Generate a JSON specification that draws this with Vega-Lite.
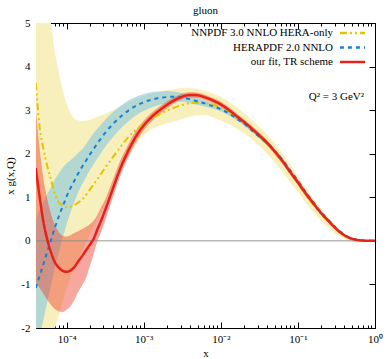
{
  "$schema": "https://vega.github.io/schema/vega-lite/v6.json",
  "width": 339,
  "height": 305,
  "autosize": {"type": "none"},
  "padding": {"left": 36, "top": 23, "right": 15, "bottom": 31},
  "title": {"text": "gluon", "fontSize": 11, "font": "Liberation Serif", "fontWeight": "normal", "color": "#000", "offset": 1},
  "config": {
    "font": "Liberation Serif",
    "view": {"stroke": "#000", "strokeWidth": 1},
    "axis": {
      "labelFont": "Liberation Serif", "labelFontSize": 11, "labelColor": "#000",
      "titleFont": "Liberation Serif", "titleFontSize": 11, "titleFontWeight": "normal", "titleColor": "#000",
      "tickColor": "#000", "tickWidth": 1, "grid": false, "domain": false,
      "labelFlush": false, "labelOverlap": false
    }
  },
  "datasets": {
    "nnpdf": [
      {"p":"NNPDF 3.0 NNLO HERA-only","x":3.981e-5,"y":3.62,"lo":-3.5,"hi":9},
      {"p":"NNPDF 3.0 NNLO HERA-only","x":4.467e-5,"y":2.6,"lo":-3.2,"hi":7.5},
      {"p":"NNPDF 3.0 NNLO HERA-only","x":5.012e-5,"y":2.1,"lo":-2.9,"hi":6.2},
      {"p":"NNPDF 3.0 NNLO HERA-only","x":5.623e-5,"y":1.7,"lo":-2.6,"hi":5.5},
      {"p":"NNPDF 3.0 NNLO HERA-only","x":6.310e-5,"y":1.38,"lo":-2.3,"hi":4.95},
      {"p":"NNPDF 3.0 NNLO HERA-only","x":7.079e-5,"y":1.06,"lo":-2.0,"hi":4.3},
      {"p":"NNPDF 3.0 NNLO HERA-only","x":7.943e-5,"y":0.88,"lo":-1.7,"hi":3.85},
      {"p":"NNPDF 3.0 NNLO HERA-only","x":8.913e-5,"y":0.8,"lo":-1.38,"hi":3.45},
      {"p":"NNPDF 3.0 NNLO HERA-only","x":1.0e-4,"y":0.77,"lo":-1.1,"hi":3.15},
      {"p":"NNPDF 3.0 NNLO HERA-only","x":1.122e-4,"y":0.78,"lo":-0.85,"hi":2.93},
      {"p":"NNPDF 3.0 NNLO HERA-only","x":1.259e-4,"y":0.82,"lo":-0.62,"hi":2.8},
      {"p":"NNPDF 3.0 NNLO HERA-only","x":1.413e-4,"y":0.88,"lo":-0.42,"hi":2.76},
      {"p":"NNPDF 3.0 NNLO HERA-only","x":1.585e-4,"y":0.95,"lo":-0.24,"hi":2.75},
      {"p":"NNPDF 3.0 NNLO HERA-only","x":1.778e-4,"y":1.05,"lo":-0.05,"hi":2.76},
      {"p":"NNPDF 3.0 NNLO HERA-only","x":1.995e-4,"y":1.17,"lo":0.15,"hi":2.78},
      {"p":"NNPDF 3.0 NNLO HERA-only","x":2.239e-4,"y":1.3,"lo":0.33,"hi":2.81},
      {"p":"NNPDF 3.0 NNLO HERA-only","x":2.512e-4,"y":1.42,"lo":0.5,"hi":2.85},
      {"p":"NNPDF 3.0 NNLO HERA-only","x":2.818e-4,"y":1.55,"lo":0.68,"hi":2.88},
      {"p":"NNPDF 3.0 NNLO HERA-only","x":3.162e-4,"y":1.68,"lo":0.85,"hi":2.92},
      {"p":"NNPDF 3.0 NNLO HERA-only","x":3.981e-4,"y":1.92,"lo":1.25,"hi":2.99},
      {"p":"NNPDF 3.0 NNLO HERA-only","x":5.012e-4,"y":2.16,"lo":1.62,"hi":3.09},
      {"p":"NNPDF 3.0 NNLO HERA-only","x":6.310e-4,"y":2.38,"lo":1.95,"hi":3.18},
      {"p":"NNPDF 3.0 NNLO HERA-only","x":7.943e-4,"y":2.55,"lo":2.22,"hi":3.26},
      {"p":"NNPDF 3.0 NNLO HERA-only","x":1.0e-3,"y":2.68,"lo":2.42,"hi":3.33},
      {"p":"NNPDF 3.0 NNLO HERA-only","x":1.259e-3,"y":2.8,"lo":2.56,"hi":3.38},
      {"p":"NNPDF 3.0 NNLO HERA-only","x":1.585e-3,"y":2.9,"lo":2.64,"hi":3.42},
      {"p":"NNPDF 3.0 NNLO HERA-only","x":1.995e-3,"y":2.99,"lo":2.7,"hi":3.46},
      {"p":"NNPDF 3.0 NNLO HERA-only","x":2.512e-3,"y":3.06,"lo":2.74,"hi":3.48},
      {"p":"NNPDF 3.0 NNLO HERA-only","x":3.162e-3,"y":3.12,"lo":2.8,"hi":3.5},
      {"p":"NNPDF 3.0 NNLO HERA-only","x":3.981e-3,"y":3.16,"lo":2.85,"hi":3.5},
      {"p":"NNPDF 3.0 NNLO HERA-only","x":5.012e-3,"y":3.17,"lo":2.88,"hi":3.48},
      {"p":"NNPDF 3.0 NNLO HERA-only","x":6.310e-3,"y":3.16,"lo":2.88,"hi":3.44},
      {"p":"NNPDF 3.0 NNLO HERA-only","x":7.943e-3,"y":3.12,"lo":2.83,"hi":3.38},
      {"p":"NNPDF 3.0 NNLO HERA-only","x":0.01,"y":3.06,"lo":2.76,"hi":3.3},
      {"p":"NNPDF 3.0 NNLO HERA-only","x":0.01259,"y":2.96,"lo":2.68,"hi":3.2},
      {"p":"NNPDF 3.0 NNLO HERA-only","x":0.01585,"y":2.84,"lo":2.58,"hi":3.08},
      {"p":"NNPDF 3.0 NNLO HERA-only","x":0.01995,"y":2.7,"lo":2.47,"hi":2.94},
      {"p":"NNPDF 3.0 NNLO HERA-only","x":0.02512,"y":2.56,"lo":2.34,"hi":2.78},
      {"p":"NNPDF 3.0 NNLO HERA-only","x":0.03162,"y":2.4,"lo":2.18,"hi":2.62},
      {"p":"NNPDF 3.0 NNLO HERA-only","x":0.03981,"y":2.22,"lo":2.0,"hi":2.44},
      {"p":"NNPDF 3.0 NNLO HERA-only","x":0.05012,"y":2.02,"lo":1.8,"hi":2.24},
      {"p":"NNPDF 3.0 NNLO HERA-only","x":0.0631,"y":1.8,"lo":1.58,"hi":2.01},
      {"p":"NNPDF 3.0 NNLO HERA-only","x":0.07943,"y":1.56,"lo":1.35,"hi":1.76},
      {"p":"NNPDF 3.0 NNLO HERA-only","x":0.1,"y":1.31,"lo":1.12,"hi":1.5},
      {"p":"NNPDF 3.0 NNLO HERA-only","x":0.1259,"y":1.06,"lo":0.88,"hi":1.23},
      {"p":"NNPDF 3.0 NNLO HERA-only","x":0.1585,"y":0.83,"lo":0.66,"hi":0.98},
      {"p":"NNPDF 3.0 NNLO HERA-only","x":0.1995,"y":0.61,"lo":0.46,"hi":0.74},
      {"p":"NNPDF 3.0 NNLO HERA-only","x":0.2512,"y":0.42,"lo":0.29,"hi":0.53},
      {"p":"NNPDF 3.0 NNLO HERA-only","x":0.3162,"y":0.25,"lo":0.15,"hi":0.34},
      {"p":"NNPDF 3.0 NNLO HERA-only","x":0.3981,"y":0.12,"lo":0.05,"hi":0.19},
      {"p":"NNPDF 3.0 NNLO HERA-only","x":0.5012,"y":0.04,"lo":-0.02,"hi":0.08},
      {"p":"NNPDF 3.0 NNLO HERA-only","x":0.631,"y":0.01,"lo":-0.04,"hi":0.03},
      {"p":"NNPDF 3.0 NNLO HERA-only","x":0.7943,"y":0.002,"lo":-0.02,"hi":0.01},
      {"p":"NNPDF 3.0 NNLO HERA-only","x":1.0,"y":0,"lo":-0.005,"hi":0.005}
    ],
    "hera": [
      {"p":"HERAPDF 2.0 NNLO","x":3.981e-5,"y":-1.08,"lo":-2.6,"hi":0.5},
      {"p":"HERAPDF 2.0 NNLO","x":4.467e-5,"y":-0.8,"lo":-2.2,"hi":0.7},
      {"p":"HERAPDF 2.0 NNLO","x":5.012e-5,"y":-0.52,"lo":-1.8,"hi":0.9},
      {"p":"HERAPDF 2.0 NNLO","x":5.623e-5,"y":-0.24,"lo":-1.4,"hi":1.08},
      {"p":"HERAPDF 2.0 NNLO","x":6.310e-5,"y":0.04,"lo":-1.0,"hi":1.25},
      {"p":"HERAPDF 2.0 NNLO","x":7.079e-5,"y":0.32,"lo":-0.6,"hi":1.42},
      {"p":"HERAPDF 2.0 NNLO","x":7.943e-5,"y":0.57,"lo":-0.25,"hi":1.56},
      {"p":"HERAPDF 2.0 NNLO","x":8.913e-5,"y":0.8,"lo":0.08,"hi":1.68},
      {"p":"HERAPDF 2.0 NNLO","x":1.0e-4,"y":1.02,"lo":0.38,"hi":1.78},
      {"p":"HERAPDF 2.0 NNLO","x":1.122e-4,"y":1.21,"lo":0.65,"hi":1.85},
      {"p":"HERAPDF 2.0 NNLO","x":1.259e-4,"y":1.38,"lo":0.9,"hi":1.93},
      {"p":"HERAPDF 2.0 NNLO","x":1.413e-4,"y":1.55,"lo":1.11,"hi":2.02},
      {"p":"HERAPDF 2.0 NNLO","x":1.585e-4,"y":1.7,"lo":1.3,"hi":2.1},
      {"p":"HERAPDF 2.0 NNLO","x":1.778e-4,"y":1.84,"lo":1.46,"hi":2.22},
      {"p":"HERAPDF 2.0 NNLO","x":1.995e-4,"y":1.98,"lo":1.62,"hi":2.35},
      {"p":"HERAPDF 2.0 NNLO","x":2.239e-4,"y":2.11,"lo":1.76,"hi":2.47},
      {"p":"HERAPDF 2.0 NNLO","x":2.512e-4,"y":2.24,"lo":1.9,"hi":2.58},
      {"p":"HERAPDF 2.0 NNLO","x":2.818e-4,"y":2.36,"lo":2.03,"hi":2.68},
      {"p":"HERAPDF 2.0 NNLO","x":3.162e-4,"y":2.48,"lo":2.16,"hi":2.78},
      {"p":"HERAPDF 2.0 NNLO","x":3.981e-4,"y":2.68,"lo":2.38,"hi":2.96},
      {"p":"HERAPDF 2.0 NNLO","x":5.012e-4,"y":2.85,"lo":2.58,"hi":3.1},
      {"p":"HERAPDF 2.0 NNLO","x":6.310e-4,"y":2.99,"lo":2.74,"hi":3.22},
      {"p":"HERAPDF 2.0 NNLO","x":7.943e-4,"y":3.1,"lo":2.88,"hi":3.31},
      {"p":"HERAPDF 2.0 NNLO","x":1.0e-3,"y":3.18,"lo":2.98,"hi":3.37},
      {"p":"HERAPDF 2.0 NNLO","x":1.259e-3,"y":3.24,"lo":3.06,"hi":3.41},
      {"p":"HERAPDF 2.0 NNLO","x":1.585e-3,"y":3.28,"lo":3.12,"hi":3.43},
      {"p":"HERAPDF 2.0 NNLO","x":1.995e-3,"y":3.3,"lo":3.16,"hi":3.44},
      {"p":"HERAPDF 2.0 NNLO","x":2.512e-3,"y":3.31,"lo":3.19,"hi":3.42},
      {"p":"HERAPDF 2.0 NNLO","x":3.162e-3,"y":3.29,"lo":3.19,"hi":3.39},
      {"p":"HERAPDF 2.0 NNLO","x":3.981e-3,"y":3.25,"lo":3.16,"hi":3.34},
      {"p":"HERAPDF 2.0 NNLO","x":5.012e-3,"y":3.2,"lo":3.12,"hi":3.28},
      {"p":"HERAPDF 2.0 NNLO","x":6.310e-3,"y":3.15,"lo":3.08,"hi":3.22},
      {"p":"HERAPDF 2.0 NNLO","x":7.943e-3,"y":3.09,"lo":3.03,"hi":3.15},
      {"p":"HERAPDF 2.0 NNLO","x":0.01,"y":3.02,"lo":2.97,"hi":3.07},
      {"p":"HERAPDF 2.0 NNLO","x":0.01259,"y":2.93,"lo":2.88,"hi":2.98},
      {"p":"HERAPDF 2.0 NNLO","x":0.01585,"y":2.81,"lo":2.77,"hi":2.85},
      {"p":"HERAPDF 2.0 NNLO","x":0.01995,"y":2.69,"lo":2.65,"hi":2.73},
      {"p":"HERAPDF 2.0 NNLO","x":0.02512,"y":2.54,"lo":2.5,"hi":2.58},
      {"p":"HERAPDF 2.0 NNLO","x":0.03162,"y":2.39,"lo":2.35,"hi":2.43},
      {"p":"HERAPDF 2.0 NNLO","x":0.03981,"y":2.24,"lo":2.2,"hi":2.28},
      {"p":"HERAPDF 2.0 NNLO","x":0.05012,"y":2.06,"lo":2.02,"hi":2.1},
      {"p":"HERAPDF 2.0 NNLO","x":0.0631,"y":1.86,"lo":1.82,"hi":1.9},
      {"p":"HERAPDF 2.0 NNLO","x":0.07943,"y":1.62,"lo":1.58,"hi":1.66},
      {"p":"HERAPDF 2.0 NNLO","x":0.1,"y":1.38,"lo":1.34,"hi":1.42},
      {"p":"HERAPDF 2.0 NNLO","x":0.1259,"y":1.12,"lo":1.08,"hi":1.16},
      {"p":"HERAPDF 2.0 NNLO","x":0.1585,"y":0.89,"lo":0.86,"hi":0.92},
      {"p":"HERAPDF 2.0 NNLO","x":0.1995,"y":0.66,"lo":0.63,"hi":0.69},
      {"p":"HERAPDF 2.0 NNLO","x":0.2512,"y":0.47,"lo":0.44,"hi":0.5},
      {"p":"HERAPDF 2.0 NNLO","x":0.3162,"y":0.29,"lo":0.27,"hi":0.31},
      {"p":"HERAPDF 2.0 NNLO","x":0.3981,"y":0.14,"lo":0.12,"hi":0.16},
      {"p":"HERAPDF 2.0 NNLO","x":0.5012,"y":0.05,"lo":0.04,"hi":0.06},
      {"p":"HERAPDF 2.0 NNLO","x":0.631,"y":0.015,"lo":0.01,"hi":0.02},
      {"p":"HERAPDF 2.0 NNLO","x":0.7943,"y":0.003,"lo":0.0,"hi":0.006},
      {"p":"HERAPDF 2.0 NNLO","x":1.0,"y":0,"lo":0,"hi":0}
    ],
    "fit": [
      {"p":"our fit, TR scheme","x":3.981e-5,"y":1.67,"lo":-0.95,"hi":3.0},
      {"p":"our fit, TR scheme","x":4.467e-5,"y":1.0,"lo":-1.08,"hi":2.1},
      {"p":"our fit, TR scheme","x":5.012e-5,"y":0.42,"lo":-1.22,"hi":1.4},
      {"p":"our fit, TR scheme","x":5.623e-5,"y":0.02,"lo":-1.36,"hi":0.95},
      {"p":"our fit, TR scheme","x":6.310e-5,"y":-0.28,"lo":-1.48,"hi":0.6},
      {"p":"our fit, TR scheme","x":7.079e-5,"y":-0.5,"lo":-1.57,"hi":0.35},
      {"p":"our fit, TR scheme","x":7.943e-5,"y":-0.62,"lo":-1.62,"hi":0.2},
      {"p":"our fit, TR scheme","x":8.913e-5,"y":-0.69,"lo":-1.63,"hi":0.12},
      {"p":"our fit, TR scheme","x":1.0e-4,"y":-0.71,"lo":-1.58,"hi":0.1},
      {"p":"our fit, TR scheme","x":1.122e-4,"y":-0.68,"lo":-1.5,"hi":0.13},
      {"p":"our fit, TR scheme","x":1.259e-4,"y":-0.6,"lo":-1.35,"hi":0.18},
      {"p":"our fit, TR scheme","x":1.413e-4,"y":-0.47,"lo":-1.17,"hi":0.22},
      {"p":"our fit, TR scheme","x":1.585e-4,"y":-0.35,"lo":-1.02,"hi":0.27},
      {"p":"our fit, TR scheme","x":1.778e-4,"y":-0.22,"lo":-0.85,"hi":0.32},
      {"p":"our fit, TR scheme","x":1.995e-4,"y":-0.09,"lo":-0.58,"hi":0.38},
      {"p":"our fit, TR scheme","x":2.239e-4,"y":0.05,"lo":-0.3,"hi":0.46},
      {"p":"our fit, TR scheme","x":2.512e-4,"y":0.27,"lo":0.0,"hi":0.6},
      {"p":"our fit, TR scheme","x":2.818e-4,"y":0.48,"lo":0.22,"hi":0.78},
      {"p":"our fit, TR scheme","x":3.162e-4,"y":0.71,"lo":0.47,"hi":0.95},
      {"p":"our fit, TR scheme","x":3.981e-4,"y":1.2,"lo":1.0,"hi":1.4},
      {"p":"our fit, TR scheme","x":5.012e-4,"y":1.68,"lo":1.52,"hi":1.86},
      {"p":"our fit, TR scheme","x":6.310e-4,"y":2.07,"lo":1.92,"hi":2.22},
      {"p":"our fit, TR scheme","x":7.943e-4,"y":2.4,"lo":2.27,"hi":2.53},
      {"p":"our fit, TR scheme","x":1.0e-3,"y":2.65,"lo":2.54,"hi":2.76},
      {"p":"our fit, TR scheme","x":1.259e-3,"y":2.84,"lo":2.74,"hi":2.94},
      {"p":"our fit, TR scheme","x":1.585e-3,"y":2.99,"lo":2.9,"hi":3.08},
      {"p":"our fit, TR scheme","x":1.995e-3,"y":3.12,"lo":3.04,"hi":3.2},
      {"p":"our fit, TR scheme","x":2.512e-3,"y":3.23,"lo":3.16,"hi":3.3},
      {"p":"our fit, TR scheme","x":3.162e-3,"y":3.31,"lo":3.25,"hi":3.38},
      {"p":"our fit, TR scheme","x":3.981e-3,"y":3.35,"lo":3.29,"hi":3.41},
      {"p":"our fit, TR scheme","x":5.012e-3,"y":3.34,"lo":3.28,"hi":3.4},
      {"p":"our fit, TR scheme","x":6.310e-3,"y":3.29,"lo":3.23,"hi":3.35},
      {"p":"our fit, TR scheme","x":7.943e-3,"y":3.22,"lo":3.16,"hi":3.28},
      {"p":"our fit, TR scheme","x":0.01,"y":3.13,"lo":3.07,"hi":3.19},
      {"p":"our fit, TR scheme","x":0.01259,"y":3.01,"lo":2.95,"hi":3.07},
      {"p":"our fit, TR scheme","x":0.01585,"y":2.87,"lo":2.81,"hi":2.93},
      {"p":"our fit, TR scheme","x":0.01995,"y":2.73,"lo":2.67,"hi":2.79},
      {"p":"our fit, TR scheme","x":0.02512,"y":2.58,"lo":2.52,"hi":2.64},
      {"p":"our fit, TR scheme","x":0.03162,"y":2.42,"lo":2.36,"hi":2.48},
      {"p":"our fit, TR scheme","x":0.03981,"y":2.25,"lo":2.19,"hi":2.31},
      {"p":"our fit, TR scheme","x":0.05012,"y":2.05,"lo":1.99,"hi":2.11},
      {"p":"our fit, TR scheme","x":0.0631,"y":1.83,"lo":1.77,"hi":1.89},
      {"p":"our fit, TR scheme","x":0.07943,"y":1.58,"lo":1.52,"hi":1.64},
      {"p":"our fit, TR scheme","x":0.1,"y":1.34,"lo":1.28,"hi":1.4},
      {"p":"our fit, TR scheme","x":0.1259,"y":1.09,"lo":1.03,"hi":1.15},
      {"p":"our fit, TR scheme","x":0.1585,"y":0.86,"lo":0.81,"hi":0.91},
      {"p":"our fit, TR scheme","x":0.1995,"y":0.64,"lo":0.6,"hi":0.68},
      {"p":"our fit, TR scheme","x":0.2512,"y":0.45,"lo":0.41,"hi":0.49},
      {"p":"our fit, TR scheme","x":0.3162,"y":0.27,"lo":0.24,"hi":0.3},
      {"p":"our fit, TR scheme","x":0.3981,"y":0.13,"lo":0.11,"hi":0.15},
      {"p":"our fit, TR scheme","x":0.5012,"y":0.05,"lo":0.04,"hi":0.06},
      {"p":"our fit, TR scheme","x":0.631,"y":0.015,"lo":0.01,"hi":0.02},
      {"p":"our fit, TR scheme","x":0.7943,"y":0.003,"lo":0.0,"hi":0.006},
      {"p":"our fit, TR scheme","x":1.0,"y":0,"lo":0,"hi":0}
    ]
  },
  "resolve": {"axis": {"x": "independent", "y": "independent"}},
  "layer": [
    {
      "data": {"name": "nnpdf"},
      "mark": {"type": "area", "color": "#f7f0bd", "interpolate": "monotone", "clip": true},
      "encoding": {
        "x": {
          "field": "x", "type": "quantitative",
          "scale": {"type": "log", "domain": [0.00004, 1], "nice": false},
          "axis": {
            "orient": "bottom", "values": [0.0001, 0.001, 0.01, 0.1, 1],
            "labelExpr": "datum.value < 0.0005 ? '10⁻⁴' : datum.value < 0.005 ? '10⁻³' : datum.value < 0.05 ? '10⁻²' : datum.value < 0.5 ? '10⁻¹' : '10⁰'",
            "tickSize": -6, "labelPadding": 11, "title": "x", "titlePadding": 3
          }
        },
        "y": {
          "field": "lo", "type": "quantitative",
          "scale": {"domain": [-2, 5], "nice": false, "zero": false},
          "axis": {
            "orient": "left", "values": [-2, -1, 0, 1, 2, 3, 4, 5],
            "labelExpr": "datum.value < 0 ? '-' + abs(datum.value) : '' + datum.value",
            "tickSize": -6, "labelPadding": 12, "title": "x g(x,Q)", "titlePadding": 5
          }
        },
        "y2": {"field": "hi"}
      }
    },
    {
      "data": {"name": "hera"},
      "mark": {"type": "area", "color": "#7cc4e2", "opacity": 0.55, "interpolate": "monotone", "clip": true},
      "encoding": {
        "x": {
          "field": "x", "type": "quantitative",
          "axis": {
            "orient": "bottom",
            "values": [0.00005, 0.00006, 0.00007, 0.00008, 0.00009, 0.0002, 0.0003, 0.0004, 0.0005, 0.0006, 0.0007, 0.0008, 0.0009, 0.002, 0.003, 0.004, 0.005, 0.006, 0.007, 0.008, 0.009, 0.02, 0.03, 0.04, 0.05, 0.06, 0.07, 0.08, 0.09, 0.2, 0.3, 0.4, 0.5, 0.6, 0.7, 0.8, 0.9],
            "labels": false, "tickSize": -3, "title": null
          }
        },
        "y": {
          "field": "lo", "type": "quantitative",
          "axis": {"orient": "right", "values": [-2, -1, 0, 1, 2, 3, 4, 5], "labels": false, "tickSize": -6, "title": null}
        },
        "y2": {"field": "hi"}
      }
    },
    {
      "data": {"name": "fit"},
      "mark": {"type": "area", "color": "#ee3b2a", "opacity": 0.45, "interpolate": "monotone", "clip": true},
      "encoding": {
        "x": {
          "field": "x", "type": "quantitative",
          "axis": {"orient": "top", "values": [0.0001, 0.001, 0.01, 0.1, 1], "labels": false, "tickSize": -6, "title": null}
        },
        "y": {"field": "lo", "type": "quantitative", "axis": null},
        "y2": {"field": "hi"}
      }
    },
    {
      "data": {"values": [{}]},
      "mark": {"type": "rule", "color": "#8a8a8a", "strokeWidth": 1.5, "opacity": 0.6},
      "encoding": {"y": {"datum": 0, "axis": null}}
    },
    {
      "data": {"name": "nnpdf"},
      "mark": {"type": "line", "strokeWidth": 2, "interpolate": "monotone", "clip": true},
      "encoding": {
        "x": {
          "field": "x", "type": "quantitative",
          "axis": {
            "orient": "top",
            "values": [0.00005, 0.00006, 0.00007, 0.00008, 0.00009, 0.0002, 0.0003, 0.0004, 0.0005, 0.0006, 0.0007, 0.0008, 0.0009, 0.002, 0.003, 0.004, 0.005, 0.006, 0.007, 0.008, 0.009, 0.02, 0.03, 0.04, 0.05, 0.06, 0.07, 0.08, 0.09, 0.2, 0.3, 0.4, 0.5, 0.6, 0.7, 0.8, 0.9],
            "labels": false, "tickSize": -3, "title": null
          }
        },
        "y": {"field": "y", "type": "quantitative", "axis": null},
        "color": {
          "field": "p", "type": "nominal",
          "scale": {"domain": ["NNPDF 3.0 NNLO HERA-only", "HERAPDF 2.0 NNLO", "our fit, TR scheme"], "range": ["#e3c400", "#1a7fd0", "#e8201a"]},
          "legend": {
            "orient": "none", "legendX": 304, "legendY": 4, "title": null,
            "symbolType": "M-2.1,0H2.1", "symbolSize": 144, "symbolStrokeWidth": 2.5, "clipHeight": 12,
            "labelAlign": "right", "labelFontSize": 11, "labelFont": "Liberation Serif", "labelColor": "#000",
            "rowPadding": 2.5, "labelLimit": 300, "padding": 0,
            "encode": {
              "entries": {"update": {"width": {"value": 30}, "height": {"value": 12}}},
              "symbols": {"update": {"x": {"value": 12.5}, "y": {"value": 6}}},
              "labels": {"update": {"x": {"value": -7}, "y": {"value": 6}}}
            }
          }
        },
        "strokeDash": {
          "field": "p", "type": "nominal",
          "scale": {"domain": ["NNPDF 3.0 NNLO HERA-only", "HERAPDF 2.0 NNLO", "our fit, TR scheme"], "range": [[7, 3, 2, 3, 2, 3], [4, 4], [1, 0]]},
          "legend": {
            "orient": "none", "legendX": 304, "legendY": 4, "title": null,
            "symbolType": "M-2.1,0H2.1", "symbolSize": 144, "symbolStrokeWidth": 2.5, "clipHeight": 12,
            "labelAlign": "right", "labelFontSize": 11, "labelFont": "Liberation Serif", "labelColor": "#000",
            "rowPadding": 2.5, "labelLimit": 300, "padding": 0,
            "encode": {
              "entries": {"update": {"width": {"value": 30}, "height": {"value": 12}}},
              "symbols": {"update": {"x": {"value": 12.5}, "y": {"value": 6}}},
              "labels": {"update": {"x": {"value": -7}, "y": {"value": 6}}}
            }
          }
        }
      }
    },
    {
      "data": {"name": "hera"},
      "mark": {"type": "line", "strokeWidth": 2, "interpolate": "monotone", "clip": true},
      "encoding": {
        "x": {"field": "x", "type": "quantitative", "axis": null},
        "y": {"field": "y", "type": "quantitative", "axis": null},
        "color": {"field": "p", "type": "nominal"},
        "strokeDash": {"field": "p", "type": "nominal"}
      }
    },
    {
      "data": {"name": "fit"},
      "mark": {"type": "line", "strokeWidth": 2.5, "interpolate": "monotone", "clip": true},
      "encoding": {
        "x": {"field": "x", "type": "quantitative", "axis": null},
        "y": {"field": "y", "type": "quantitative", "axis": null},
        "color": {"field": "p", "type": "nominal"},
        "strokeDash": {"field": "p", "type": "nominal"}
      }
    },
    {
      "data": {"values": [{"label": "Q² = 3 GeV²"}]},
      "mark": {"type": "text", "align": "right", "baseline": "middle", "fontSize": 11, "font": "Liberation Serif", "color": "#000"},
      "encoding": {
        "x": {"datum": 0.72, "axis": null},
        "y": {"datum": 3.3, "axis": null},
        "text": {"field": "label"}
      }
    }
  ]
}
